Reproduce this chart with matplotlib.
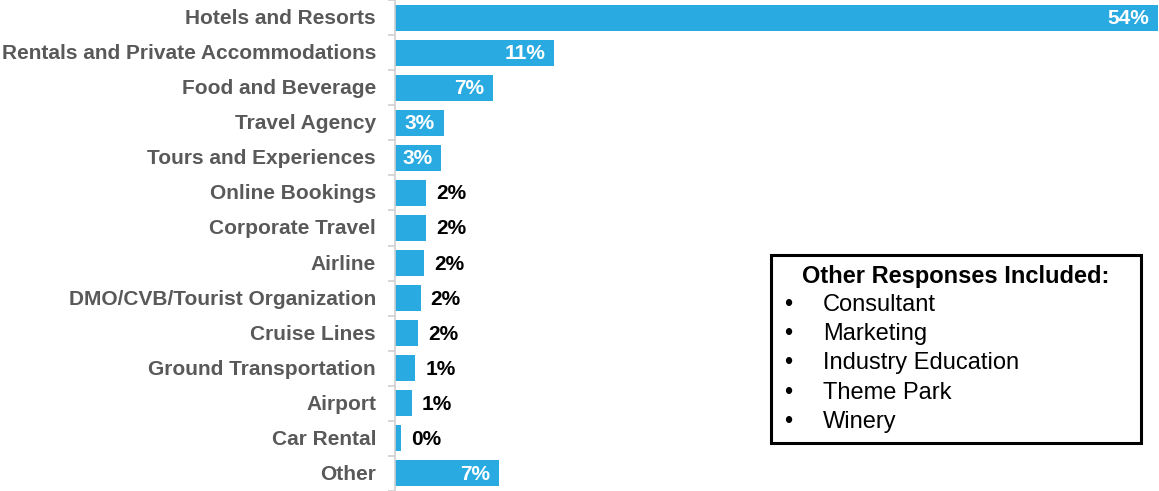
import matplotlib.pyplot as plt
import numpy as np

plt.rcParams['font.family'] = ['Liberation Sans', 'DejaVu Sans']

categories = [
    "Hotels and Resorts",
    "Rentals and Private Accommodations",
    "Food and Beverage",
    "Travel Agency",
    "Tours and Experiences",
    "Online Bookings",
    "Corporate Travel",
    "Airline",
    "DMO/CVB/Tourist Organization",
    "Cruise Lines",
    "Ground Transportation",
    "Airport",
    "Car Rental",
    "Other",
]
shares = [54.0, 11.27, 6.94, 3.45, 3.28, 2.22, 2.22, 2.05, 1.82, 1.63, 1.44, 1.2, 0.4, 7.36]

other_title = "Other Responses Included:"
other_items = ["Consultant", "Marketing", "Industry Education", "Theme Park", "Winery"]

W, H = 1159, 491
fig = plt.figure(figsize=(W / 100, H / 100), dpi=100)

# y position in data units so that the row pitch is ~35 px
y0_px, pitch = 17.0, 35.25
top = -y0_px / pitch
bottom = (H - y0_px) / pitch

ax = fig.add_axes([395 / W, 0, (W - 395) / W, 1])
y = np.arange(len(categories))
bar_color = "#29abe2"
ax.barh(y, shares, height=0.74, color=bar_color)

ax.set_ylim(bottom, top)
ax.set_xlim(0, 54.05)

for s in ["top", "right", "bottom"]:
    ax.spines[s].set_visible(False)
ax.spines["left"].set_color("#d0d0d0")
ax.spines["left"].set_linewidth(1.2)
ax.set_xticks([])
ax.set_yticks(np.arange(-0.5, len(categories) + 0.5, 1.0))
ax.set_yticklabels([])
ax.tick_params(axis="y", length=5, color="#d0d0d0", width=1.2)

# category labels
for i, name in enumerate(categories):
    ax.annotate(name, xy=(0, i), xytext=(-19, -1), textcoords="offset pixels",
                ha="right", va="center", fontsize=15, fontweight="bold",
                color="#595959")

# value labels: inside for the larger bars, outside for small ones
for i, v in enumerate(shares):
    txt = f"{v:.0f}%"
    if v >= 3:
        ax.annotate(txt, xy=(v, i), xytext=(-9, -1), textcoords="offset pixels",
                    ha="right", va="center", fontsize=15, fontweight="bold",
                    color="white")
    else:
        ax.annotate(txt, xy=(v, i), xytext=(10, -1), textcoords="offset pixels",
                    ha="left", va="center", fontsize=15, fontweight="bold",
                    color="black")

# box listing the other responses
bx0, by0, bx1, by1 = 771, 255, 1141, 443
box = plt.Rectangle((bx0 / W, 1 - by1 / H), (bx1 - bx0) / W, (by1 - by0) / H,
                    transform=fig.transFigure, fill=True, facecolor="white",
                    edgecolor="black", linewidth=2.2, zorder=5)
fig.patches.append(box)
fig.text((bx0 + bx1) / 2 / W, 1 - 276 / H, other_title, ha="center", va="center",
         fontsize=17, fontweight="bold", color="black", zorder=6)
for k, item in enumerate(other_items):
    yy = 1 - (305 + 29.2 * k) / H
    fig.text(788 / W, yy, "\u2022", ha="center", va="center", fontsize=17,
             color="black", zorder=6)
    fig.text(823 / W, yy, item, ha="left", va="center", fontsize=17,
             color="black", zorder=6)

fig.savefig("out.png", dpi=100)
